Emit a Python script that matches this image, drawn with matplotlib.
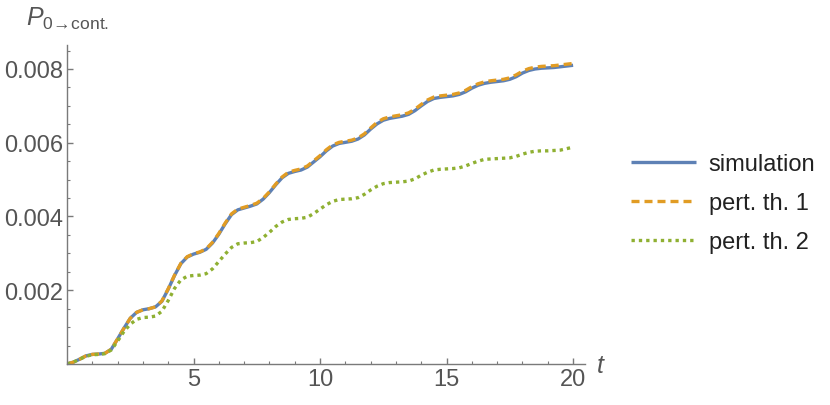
import numpy as np
import matplotlib
matplotlib.use('Agg')
import matplotlib.pyplot as plt
from matplotlib.ticker import MultipleLocator, FixedLocator

plt.rcParams['font.family'] = ['Liberation Sans', 'DejaVu Sans']
plt.rcParams['mathtext.fontset'] = 'custom'
plt.rcParams['mathtext.rm'] = 'Liberation Sans'
plt.rcParams['mathtext.it'] = 'Liberation Sans:italic'

# time grid (read every 0.25)
t = np.arange(0, 20.01, 0.25)

simulation = [
    0.00000, 0.00005, 0.00013, 0.00022, 0.00026, 0.00027, 0.00029, 0.00040,
    0.00068, 0.00097, 0.00124, 0.00140, 0.00147, 0.00150, 0.00155, 0.00170,
    0.00203, 0.00240, 0.00272, 0.00290, 0.00298, 0.00303, 0.00311, 0.00328,
    0.00352, 0.00380, 0.00405, 0.00418, 0.00423, 0.00428, 0.00434, 0.00447,
    0.00465, 0.00486, 0.00505, 0.00517, 0.00522, 0.00526, 0.00534, 0.00548,
    0.00562, 0.00578, 0.00591, 0.00598, 0.00601, 0.00604, 0.00610, 0.00621,
    0.00637, 0.00651, 0.00661, 0.00666, 0.00669, 0.00672, 0.00677, 0.00687,
    0.00700, 0.00712, 0.00720, 0.00723, 0.00725, 0.00727, 0.00731, 0.00738,
    0.00748, 0.00756, 0.00761, 0.00764, 0.00766, 0.00768, 0.00772, 0.00779,
    0.00789, 0.00796, 0.00800, 0.00802, 0.00803, 0.00804, 0.00806, 0.00808,
    0.00810,
]

pert1 = [
    0.00000, 0.00005, 0.00013, 0.00022, 0.00026, 0.00027, 0.00029, 0.00040,
    0.00068, 0.00097, 0.00124, 0.00140, 0.00147, 0.00150, 0.00155, 0.00171,
    0.00204, 0.00241, 0.00273, 0.00291, 0.00299, 0.00304, 0.00312, 0.00330,
    0.00354, 0.00382, 0.00407, 0.00420, 0.00425, 0.00430, 0.00436, 0.00449,
    0.00467, 0.00488, 0.00507, 0.00520, 0.00525, 0.00529, 0.00537, 0.00551,
    0.00565, 0.00581, 0.00594, 0.00601, 0.00604, 0.00607, 0.00613, 0.00624,
    0.00640, 0.00655, 0.00665, 0.00670, 0.00673, 0.00676, 0.00681, 0.00691,
    0.00704, 0.00716, 0.00724, 0.00727, 0.00729, 0.00731, 0.00735, 0.00742,
    0.00752, 0.00760, 0.00765, 0.00768, 0.00770, 0.00772, 0.00776, 0.00784,
    0.00794, 0.00801, 0.00805, 0.00807, 0.00808, 0.00809, 0.00811, 0.00813,
    0.00815,
]

pert2 = [
    0.00000, 0.00005, 0.00013, 0.00021, 0.00025, 0.00026, 0.00028, 0.00038,
    0.00062, 0.00088, 0.00108, 0.00121, 0.00126, 0.00127, 0.00130, 0.00143,
    0.00172, 0.00205, 0.00228, 0.00238, 0.00240, 0.00241, 0.00245, 0.00258,
    0.00278, 0.00298, 0.00316, 0.00326, 0.00328, 0.00329, 0.00332, 0.00343,
    0.00357, 0.00373, 0.00385, 0.00392, 0.00394, 0.00395, 0.00398, 0.00408,
    0.00420, 0.00432, 0.00441, 0.00446, 0.00447, 0.00448, 0.00451, 0.00460,
    0.00472, 0.00482, 0.00489, 0.00492, 0.00493, 0.00494, 0.00496, 0.00502,
    0.00512, 0.00520, 0.00526, 0.00528, 0.00529, 0.00530, 0.00532, 0.00537,
    0.00544, 0.00550, 0.00555, 0.00556, 0.00557, 0.00558, 0.00559, 0.00563,
    0.00569, 0.00574, 0.00577, 0.00578, 0.00578, 0.00579, 0.00580, 0.00584,
    0.00588,
]

labels = ['simulation', 'pert. th. 1', 'pert. th. 2']
x_ticks = [5, 10, 15, 20]
y_ticks = [0.002, 0.004, 0.006, 0.008]

gray = '#7a7a7a'
txt = '#555555'

fig = plt.figure(figsize=(8.3, 4.06), dpi=100)
ax = fig.add_axes([67 / 830, 41 / 406, 518 / 830, 319 / 406])

l1, = ax.plot(t, simulation, color='#5E81B5', lw=2.4, solid_capstyle='butt')
l2, = ax.plot(t, pert1, color='#E19C24', lw=2.4, dashes=(2.4, 1.5))
l3, = ax.plot(t, pert2, color='#8FB032', lw=2.4, dashes=(1.0, 1.2))

ax.set_xlim(0, 20.47)
ax.set_ylim(0, 0.00865)

for s in ['top', 'right']:
    ax.spines[s].set_visible(False)
for s in ['left', 'bottom']:
    ax.spines[s].set_color(gray)
    ax.spines[s].set_linewidth(1.0)

ax.xaxis.set_major_locator(FixedLocator(x_ticks))
ax.xaxis.set_minor_locator(MultipleLocator(1))
ax.yaxis.set_major_locator(FixedLocator(y_ticks))
ax.yaxis.set_minor_locator(MultipleLocator(0.0005))
ax.set_yticklabels([f'{v:.3f}' for v in y_ticks])
ax.tick_params(which='major', direction='in', length=4, width=1,
               color=gray, labelcolor=txt, labelsize=17, pad=3)
ax.tick_params(which='minor', direction='in', length=2.2, width=0.8,
               color=gray)

fig.text(26 / 830, 1 - 26 / 406, r'$P_{\mathrm{0\!\rightarrow\!cont.}}$',
         fontsize=18, color=txt, va='baseline', ha='left')
fig.text(596 / 830, 1 - 373 / 406, r'$t$', fontsize=18, color=txt,
         va='baseline', ha='left')

fig.legend([l1, l2, l3], labels, loc='center left',
           bbox_to_anchor=(619 / 830, 0.497), frameon=False,
           fontsize=17, handlelength=2.75, handletextpad=0.55,
           labelspacing=0.72, borderpad=0, labelcolor='#222222')

fig.savefig('out.png', dpi=100)
